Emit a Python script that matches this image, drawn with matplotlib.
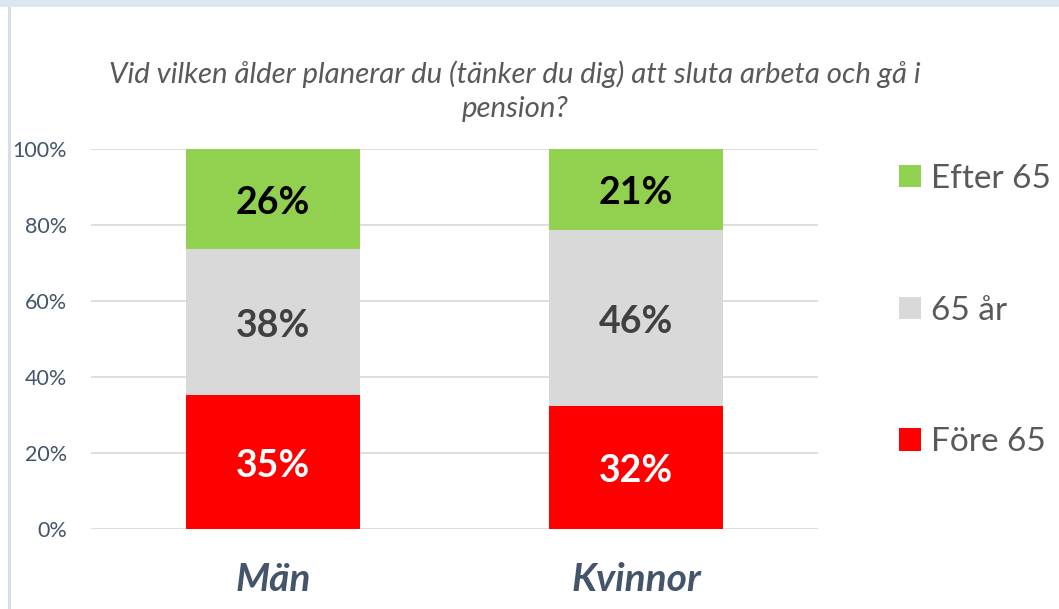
import matplotlib
matplotlib.use("Agg")
import matplotlib.pyplot as plt
import numpy as np
from matplotlib.patches import Rectangle

categories = ["Män", "Kvinnor"]
series_names = ["Före 65", "65 år", "Efter 65"]
fore = [35, 32]
mitt = [38, 46]
efter = [26, 21]
colors = ["#FF0000", "#D9D9D9", "#92D050"]
label_colors = ["white", "#404040", "black"]
yticks = [0, 20, 40, 60, 80, 100]
ytick_labels = ["0%", "20%", "40%", "60%", "80%", "100%"]
title = "Vid vilken ålder planerar du (tänker du dig) att sluta arbeta och gå i\npension?"

plt.rcParams['font.family'] = ['Lato', 'DejaVu Sans']

W, H = 1059, 609
fig = plt.figure(figsize=(W / 100, H / 100), dpi=100)
fig.patch.set_facecolor("white")

# frame decorations
fig.add_artist(Rectangle((0, 1 - 7 / H), 1, 7 / H, transform=fig.transFigure,
                         facecolor="#DCE6F0", edgecolor="none"))
fig.add_artist(Rectangle((8 / W, 0), 3 / W, 1 - 7 / H, transform=fig.transFigure,
                         facecolor="#D6DEE8", edgecolor="none"))

ax = fig.add_axes([91 / W, 1 - 529 / H, (818 - 91) / W, (529 - 149) / H])

data = np.array([fore, mitt, efter], dtype=float)
totals = data.sum(axis=0)
pct = data / totals * 100

x = np.arange(len(categories))
width = 0.478
bottom = np.zeros(len(categories))
for i, name in enumerate(series_names):
    ax.bar(x, pct[i], width, bottom=bottom, color=colors[i], label=name, zorder=3)
    for j in range(len(categories)):
        ax.text(x[j], bottom[j] + pct[i][j] / 2 - 1.0, f"{int(data[i][j])}%",
                ha="center", va="center", fontsize=27, fontweight="bold",
                color=label_colors[i], zorder=4)
    bottom += pct[i]

ax.set_xlim(-0.5, 1.5)
ax.set_ylim(0, 100)
ax.set_yticks(yticks)
ax.set_yticklabels(ytick_labels, fontsize=15.5, color="#44546A")
ax.set_xticks(x)
ax.set_xticklabels(categories, fontsize=28, fontweight="bold", fontstyle="italic",
                   color="#44546A")
ax.tick_params(axis="both", length=0)
ax.tick_params(axis="y", pad=17.5)
ax.tick_params(axis="x", pad=24)
for s in ax.spines.values():
    s.set_visible(False)
ax.yaxis.grid(True, color="#D9D9D9", linewidth=1.2, zorder=0)
ax.set_axisbelow(True)

fig.text(515 / W, 1 - 91 / H, title, ha="center", va="center", fontsize=21.2,
         fontstyle="italic", color="#595959", linespacing=1.38)

# legend
handles, labels = ax.get_legend_handles_labels()
leg = fig.legend(handles[::-1], labels[::-1], loc="upper left",
                 bbox_to_anchor=(889 / W, 1 - 154 / H), frameon=False,
                 fontsize=24, labelcolor="#595959", handlelength=0.65, handleheight=0.65,
                 handletextpad=0.3, labelspacing=3.05, borderaxespad=0, borderpad=0.3)

fig.savefig("out.png", dpi=100)
